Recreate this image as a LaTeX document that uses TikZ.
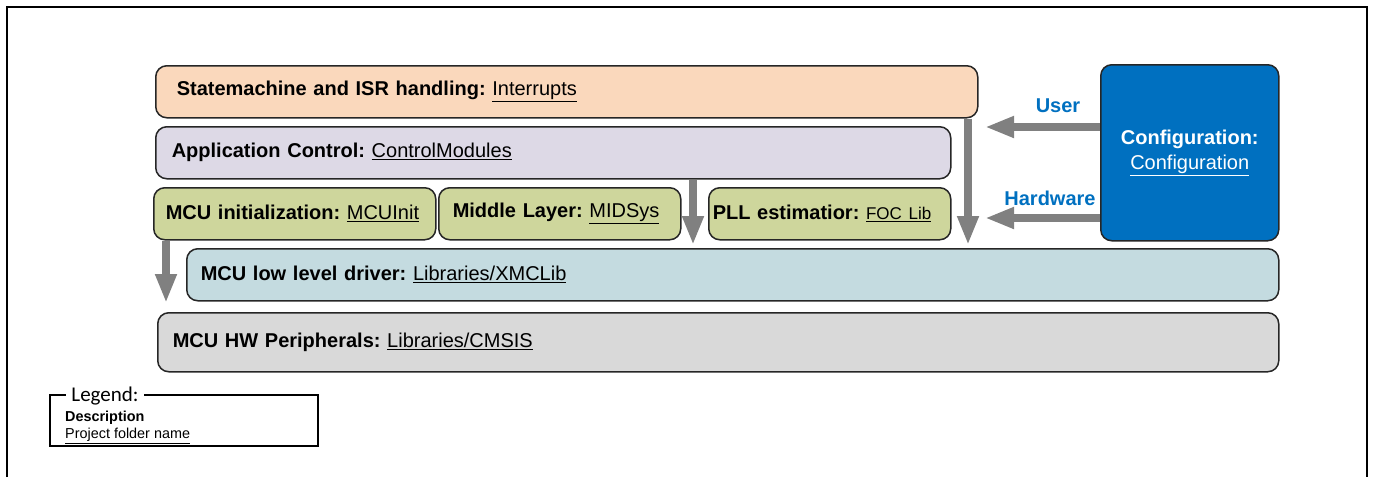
\documentclass[tikz,border=0pt]{standalone}
\usepackage{fontspec}
\setmainfont{Liberation Sans}
\newfontfamily\legendfont{Carlito}
\usetikzlibrary{arrows.meta,calc}
\definecolor{peach}{HTML}{FAD8BC}
\definecolor{lav}{HTML}{DDD9E6}
\definecolor{olive}{HTML}{CED69C}
\definecolor{lblue}{HTML}{C4DBE0}
\definecolor{lgray}{HTML}{D9D9D9}
\definecolor{cfgblue}{HTML}{0070C0}
\definecolor{arrgray}{HTML}{808080}
\begin{document}
\begin{tikzpicture}[x=1pt,y=-1pt,
  box/.style={draw=black!85,line width=1.5pt,rounded corners=11pt,anchor=north west,align=left,inner ysep=0pt,font=\fontsize{20}{23}\selectfont},
  arr/.style={draw=arrgray,line width=8pt,-{Triangle[width=20pt,length=29pt]}},
  lbl/.style={text=cfgblue,font=\fontsize{20}{24}\selectfont\bfseries}]
\useasboundingbox (0,0) rectangle (1373,477);
\draw[line width=2pt] (7,477) -- (7,7) -- (1367,7) -- (1367,477);
% boxes
\node[box,fill=peach,minimum width=822pt,minimum height=52pt,text width=780pt,inner xsep=21pt] (sm) at (155,65)
  {\textbf{Statemachine and ISR handling:}~\underline{Interrupts}};
\node[box,fill=lav,minimum width=795pt,minimum height=52pt,text width=763pt,inner xsep=16pt] (ac) at (155,126)
  {\textbf{Application Control:}~\underline{ControlModules}};
\node[box,fill=olive,minimum width=282pt,minimum height=52pt,text width=258pt,inner xsep=12pt] (mi) at (153,187)
  {\textbf{MCU initialization:}~\underline{MCUInit}};
\node[box,fill=olive,minimum width=242pt,minimum height=52pt,text width=214pt,inner xsep=14pt] (ml) at (438,187)
  {\textbf{Middle Layer:}~\underline{MIDSys}};
\node[box,fill=olive,minimum width=242pt,minimum height=52pt,text width=234pt,inner xsep=4pt] (pll) at (708,187)
  {\textbf{PLL estimatior:}~{\fontsize{17}{20}\selectfont\underline{FOC Lib}}};
\node[box,fill=lblue,minimum width=1092pt,minimum height=52pt,text width=1064pt,inner xsep=14pt] (lld) at (186,248)
  {\textbf{MCU low level driver:}~\underline{Libraries/XMCLib}};
\node[box,fill=lgray,minimum width=1121pt,minimum height=59pt,text width=1091pt,inner xsep=15pt] (hp) at (157,312)
  {\textbf{MCU HW Peripherals:}~\underline{Libraries/CMSIS}};
\node[box,fill=cfgblue,minimum width=178pt,minimum height=176pt,text width=170pt,inner xsep=4pt,align=center,text=white] (cfg) at (1100,64)
  {\textbf{Configuration:}\\[2pt]\underline{Configuration}};
% arrow tips
\coordinate (t1) at (968,245);
\coordinate (t2) at (693,245);
\coordinate (t3) at (166,303);
\coordinate (tu) at (985,127);
\coordinate (th) at (985,218);
\draw[arr] (sm.south -| t1) -- (t1);
\draw[arr] (ac.south -| t2) -- (t2);
\draw[arr] (mi.south -| t3) -- (t3);
\draw[arr] (cfg.west |- tu) -- (tu);
\draw[arr] (cfg.west |- th) -- (th);
\node[lbl] (user) at (1058,106) {User};
\node[lbl] (hw) at (1050,198) {Hardware};
% legend
\node[draw=black,line width=1.5pt,anchor=north west,minimum width=268pt,minimum height=51pt] (leg) at (49,394) {};
\node[fill=white,inner xsep=5pt,inner ysep=0pt,font=\legendfont\fontsize{21}{23}\selectfont] (legt) at (105,396) {Legend:};
\node[anchor=north west,inner sep=0pt,align=left,font=\fontsize{14.4}{17}\selectfont] (legd) at (65,411)
  {\textbf{Description}\\\underline{Project folder name}};
\end{tikzpicture}
\end{document}
